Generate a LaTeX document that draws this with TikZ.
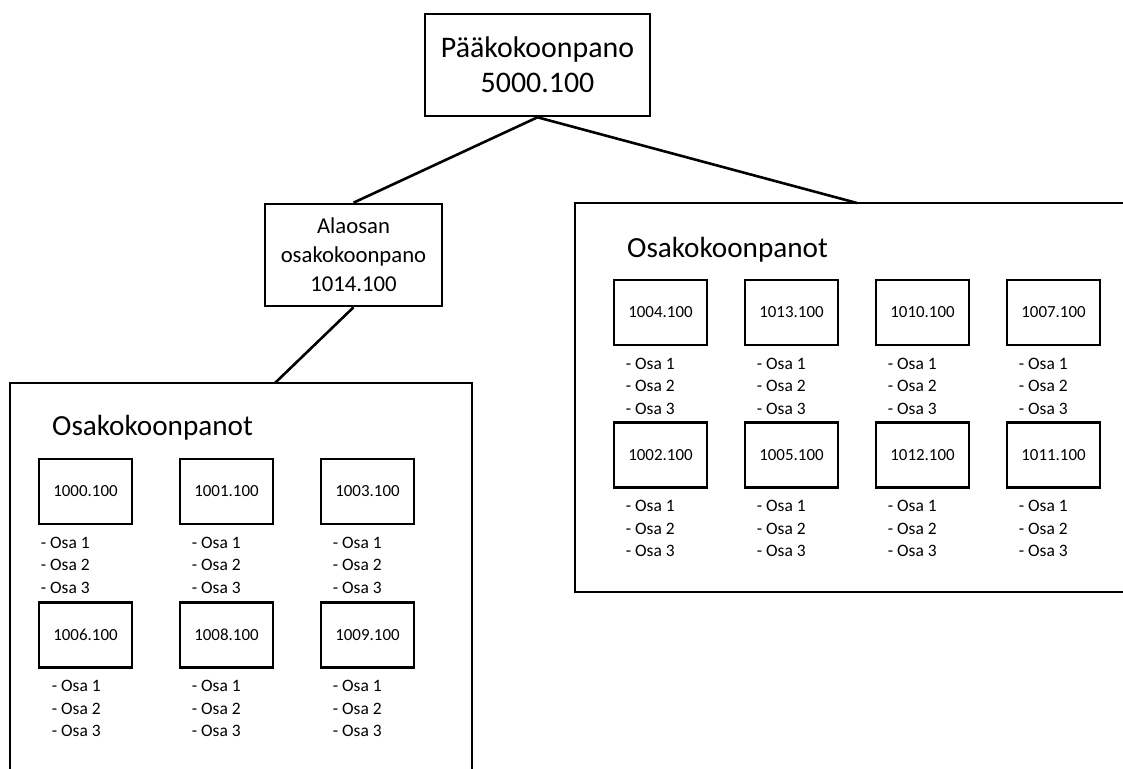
\documentclass[tikz,border=0pt]{standalone}
\usepackage{fontspec}
\setmainfont{Carlito}
\usetikzlibrary{positioning}

\begin{document}
\begin{tikzpicture}[x=1bp, y=-1bp,
        bigbox/.style={rectangle, draw, line width=2.6bp, align=center, inner sep=0pt},
        partbox/.style={rectangle, draw, line width=2.6bp, minimum width=93bp, minimum height=65bp, inner sep=0pt, font=\fontsize{17}{20}\selectfont},
        partlist/.style={align=left, inner sep=0pt, font=\fontsize{17.5}{22.5}\selectfont},
        paneltitle/.style={inner sep=0pt, anchor=base west, font=\fontsize{29.3}{35}\selectfont},
        panel/.style={draw, line width=2.4bp},
        link/.style={draw, line width=2.6bp}
    ]
    \clip (0,0) rectangle (1123,769);

    % Panels (open at the picture's edges)
    \draw[panel] (10,780) -- (10,383) -- (472,383) -- (472,780);
    \draw[panel] (1130,203) -- (575,203) -- (575,592) -- (1130,592);
    \coordinate (leftpanel) at (275,383);
    \coordinate (rightpanel) at (857,203);

    % Main and sub assembly
    \node[bigbox, minimum width=225bp, minimum height=102bp, font=\fontsize{30}{35}\selectfont] (main) at (537.5,65) {Pääkokoonpano\\5000.100};
    \node[bigbox, minimum width=177bp, minimum height=102bp, font=\fontsize{22.8}{29}\selectfont] (sub) at (353.5,255) {Alaosan\\osakokoonpano\\1014.100};

    % Panel titles
    \node[paneltitle] (lefttitle) at (52,435) {Osakokoonpanot};
    \node[paneltitle] (righttitle) at (627,257) {Osakokoonpanot};

    % Right panel parts
    \foreach \lab/\x/\y in {1004/660.5/312.5, 1013/791.5/312.5, 1010/922.5/312.5, 1007/1053.5/312.5,
                            1002/660.5/455, 1005/791.5/455, 1012/922.5/455, 1011/1053.5/455} {
        \node[partbox] (p\lab) at (\x,\y) {\lab.100};
        \node[partlist, below right=11.5bp and 13bp of p\lab.south west] (l\lab) {- Osa 1\\- Osa 2\\- Osa 3};
    }

    % Left panel parts
    \foreach \lab/\x/\y/\dx in {1000/85.5/491.5/3, 1001/226.5/491.5/13, 1003/367.5/491.5/13,
                                1006/85.5/635/14, 1008/226.5/635/13, 1009/367.5/635/13} {
        \node[partbox] (p\lab) at (\x,\y) {\lab.100};
        \node[partlist, below right=11.5bp and \dx bp of p\lab.south west] (l\lab) {- Osa 1\\- Osa 2\\- Osa 3};
    }

    % Connectors
    \draw[link] (main.south) -- (sub.north);
    \draw[link] (main.south) -- (rightpanel);
    \draw[link] (sub.south) -- (leftpanel);

\end{tikzpicture}
\end{document}
